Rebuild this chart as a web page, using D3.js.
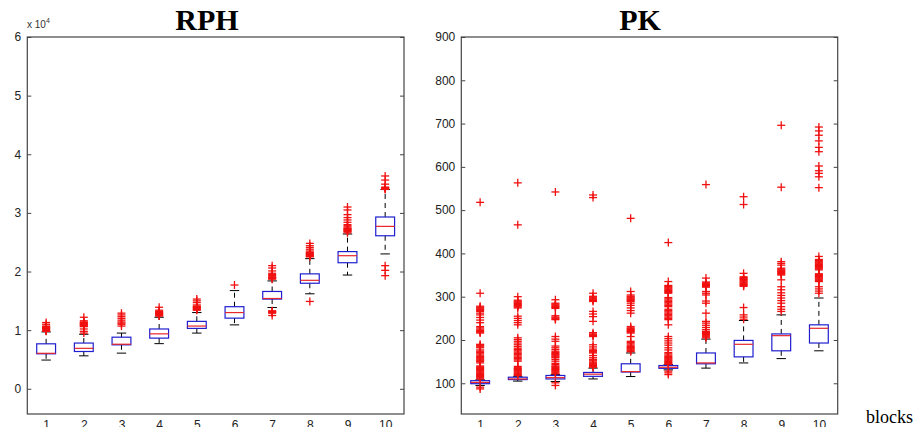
<!DOCTYPE html>
<html>
<head>
<meta charset="utf-8">
<script src="https://cdn.jsdelivr.net/npm/d3@7"></script>
<style>
  body { margin: 0; background: #fff; }
  svg { display: block; }
</style>
</head>
<body>
<svg id="chart" width="920" height="427"></svg>
<script>
"use strict";

// x categories (blocks)
var blocks = [1, 2, 3, 4, 5, 6, 7, 8, 9, 10];

// RPH, values in units of 10^4
var rphTicks = [0, 1, 2, 3, 4, 5, 6];
var rphLo  = [0.49, 0.562, 0.608, 0.77, 0.95, 1.09, 1.386, 1.62, 1.94, 2.30];
var rphQ1  = [0.597, 0.636, 0.75, 0.864, 1.03, 1.205, 1.53, 1.80, 2.15, 2.61];
var rphMed = [0.605, 0.69, 0.76, 0.937, 1.07, 1.30, 1.54, 1.85, 2.27, 2.77];
var rphQ3  = [0.767, 0.78, 0.88, 1.02, 1.15, 1.40, 1.66, 1.96, 2.34, 2.93];
var rphHi  = [0.97, 0.93, 0.95, 1.22, 1.30, 1.675, 1.84, 2.22, 2.64, 3.40];
var rphOut = [
  [0.98, 0.99, 1.0, 1.01, 1.02, 1.03, 1.04, 1.05, 1.06, 1.07, 1.10, 1.13],
  [0.95, 0.98, 1.02, 1.06, 1.07, 1.08, 1.09, 1.10, 1.11, 1.12, 1.13, 1.14, 1.16, 1.22],
  [1.07, 1.10, 1.12, 1.14, 1.17, 1.20, 1.23, 1.26, 1.29],
  [1.24, 1.25, 1.26, 1.27, 1.28, 1.29, 1.30, 1.31, 1.32, 1.34, 1.39],
  [1.34, 1.35, 1.36, 1.37, 1.38, 1.39, 1.40, 1.41, 1.43, 1.47, 1.50, 1.53],
  [1.77],
  [1.87, 1.88, 1.89, 1.90, 1.91, 1.93, 1.95, 1.97, 2.01, 2.06, 2.10, 1.33, 1.32, 1.31, 1.30, 1.29, 1.25],
  [2.25, 2.26, 2.27, 2.28, 2.29, 2.30, 2.31, 2.32, 2.33, 2.35, 2.38, 2.41, 2.44, 2.48, 1.49],
  [2.66, 2.68, 2.69, 2.70, 2.71, 2.72, 2.73, 2.74, 2.76, 2.78, 2.80, 2.84, 2.88, 2.92, 2.97, 3.05, 3.10],
  [3.40, 3.41, 3.42, 3.43, 3.44, 3.49, 3.56, 3.63, 2.10, 2.02, 1.93]
];

// PK
var pkTicks = [100, 200, 300, 400, 500, 600, 700, 800, 900];
var pkLo  = [95, 105, 104, 110, 115.5, 131, 135, 147, 157, 175];
var pkQ1  = [99, 108.5, 110, 116, 126, 134.5, 145, 161, 175, 193];
var pkMed = [102, 110, 113, 121, 127, 137, 147, 190, 210, 227];
var pkQ3  = [106, 114, 118, 125, 145, 141, 170, 199, 214, 235];
var pkHi  = [108, 116, 120, 135, 170, 143, 202, 245, 258, 297];
var pkOut = [
  [91, 87, 110, 112, 114, 116, 118, 120, 122, 124, 126, 128, 130, 132, 134, 136, 138, 140, 147, 150,
   152, 154, 156, 158, 160, 162, 165, 168, 171, 174, 177, 182, 184, 186, 188, 190, 216, 218, 220, 222,
   225, 228, 231, 240, 246, 252, 258, 262, 266, 268, 270, 272, 274, 276, 278, 308, 518],
  [118, 120, 122, 124, 126, 128, 130, 132, 134, 136, 139, 151, 154, 157, 160, 163, 166, 169, 172, 175,
   178, 181, 185, 189, 193, 197, 201, 205, 235, 240, 245, 250, 255, 274, 276, 278, 280, 282, 284, 286,
   288, 290, 292, 300, 466, 563],
  [101, 95, 122, 124, 126, 128, 130, 132, 134, 136, 138, 140, 143, 146, 151, 155, 159, 161, 163, 165,
   167, 169, 171, 174, 178, 182, 186, 197, 202, 208, 247, 249, 251, 253, 256, 273, 275, 277, 279, 281,
   283, 285, 293, 542],
  [137, 139, 141, 143, 145, 147, 149, 152, 155, 159, 164, 170, 172, 174, 176, 179, 184, 189, 208, 210,
   212, 214, 217, 243, 254, 260, 266, 289, 291, 293, 295, 297, 299, 301, 308, 529, 535],
  [173, 175, 177, 179, 181, 183, 185, 188, 191, 194, 197, 208, 216, 218, 220, 222, 224, 226, 228, 231,
   262, 268, 274, 280, 285, 289, 291, 293, 295, 297, 299, 301, 304, 312, 481],
  [128, 124, 120, 144, 146, 148, 150, 152, 154, 156, 158, 160, 162, 165, 168, 171, 177, 182, 188, 193,
   198, 203, 208, 235, 247, 250, 253, 256, 259, 262, 265, 268, 271, 277, 280, 283, 286, 289, 292, 295,
   298, 308, 310, 312, 314, 316, 318, 320, 322, 324, 326, 335, 425],
  [205, 207, 209, 211, 213, 215, 217, 220, 224, 229, 234, 239, 243, 262, 285, 290, 304, 308, 312, 322,
   324, 326, 328, 330, 332, 334, 343, 559],
  [248, 253, 258, 275, 324, 326, 328, 330, 332, 334, 336, 338, 340, 342, 344, 346, 354, 513, 531],
  [266, 271, 277, 285, 291, 297, 303, 309, 316, 323, 339, 350, 352, 354, 356, 358, 360, 362, 364, 366,
   373, 377, 381, 553, 696],
  [308, 313, 318, 323, 335, 337, 339, 341, 343, 345, 347, 349, 351, 353, 362, 364, 366, 368, 370, 372,
   374, 376, 378, 380, 382, 384, 386, 393, 552, 577, 585, 591, 602, 635, 645, 660, 673, 683, 692]
];

var svg = d3.select("#chart");

function drawPanel(opt) {
  var x = d3.scaleLinear().domain([0.5, 10.5]).range([opt.left, opt.right]);
  var y = d3.scaleLinear().domain(opt.domain).range([414, 37]);
  var g = svg.append("g");

  // frame
  g.append("rect")
    .attr("x", opt.left).attr("y", 37)
    .attr("width", opt.right - opt.left).attr("height", 414 - 37)
    .attr("fill", "none").attr("stroke", "#444").attr("stroke-width", 1.2);

  // y axis left + mirrored ticks right
  var yl = g.append("g").attr("transform", "translate(" + opt.left + ",0)")
    .call(d3.axisLeft(y).tickValues(opt.ticks).tickFormat(d3.format("d"))
      .tickSizeInner(-4).tickSizeOuter(0).tickPadding(6));
  yl.select(".domain").remove();
  yl.selectAll("line").attr("stroke", "#444");
  yl.selectAll("text").attr("font-family", "Arial, 'Liberation Sans', sans-serif")
    .attr("font-size", 12).attr("fill", "#222");

  var yr = g.append("g").attr("transform", "translate(" + opt.right + ",0)")
    .call(d3.axisRight(y).tickValues(opt.ticks).tickSizeInner(-4).tickSizeOuter(0).tickFormat(""));
  yr.select(".domain").remove();
  yr.selectAll("line").attr("stroke", "#444");

  // x tick labels
  var xa = g.append("g").attr("transform", "translate(0,414)")
    .call(d3.axisBottom(x).tickValues(blocks).tickSize(0).tickPadding(6));
  xa.select(".domain").remove();
  xa.selectAll("text").attr("font-family", "Arial, 'Liberation Sans', sans-serif")
    .attr("font-size", 12).attr("fill", "#222");

  var bw = x(1.25) - x(1);   // half box width
  var cw = x(1.125) - x(1);  // half cap width

  var box = g.selectAll(".box").data(blocks).enter().append("g").attr("class", "box");

  // whiskers
  box.append("line")
    .attr("x1", d => x(d)).attr("x2", d => x(d))
    .attr("y1", (d, i) => y(opt.q3[i])).attr("y2", (d, i) => y(opt.hi[i]))
    .attr("stroke", "#000").attr("stroke-dasharray", "5,4");
  box.append("line")
    .attr("x1", d => x(d)).attr("x2", d => x(d))
    .attr("y1", (d, i) => y(opt.q1[i])).attr("y2", (d, i) => y(opt.lo[i]))
    .attr("stroke", "#000").attr("stroke-dasharray", "5,4");
  // caps
  box.append("line")
    .attr("x1", d => x(d) - cw).attr("x2", d => x(d) + cw)
    .attr("y1", (d, i) => y(opt.hi[i])).attr("y2", (d, i) => y(opt.hi[i]))
    .attr("stroke", "#000");
  box.append("line")
    .attr("x1", d => x(d) - cw).attr("x2", d => x(d) + cw)
    .attr("y1", (d, i) => y(opt.lo[i])).attr("y2", (d, i) => y(opt.lo[i]))
    .attr("stroke", "#000");

  // boxes
  box.append("rect")
    .attr("x", d => x(d) - bw).attr("width", bw * 2)
    .attr("y", (d, i) => y(opt.q3[i]))
    .attr("height", (d, i) => y(opt.q1[i]) - y(opt.q3[i]))
    .attr("fill", "none").attr("stroke", "#1f1fd0").attr("stroke-width", 1.2);
  // medians
  box.append("line")
    .attr("x1", d => x(d) - bw).attr("x2", d => x(d) + bw)
    .attr("y1", (d, i) => y(opt.med[i])).attr("y2", (d, i) => y(opt.med[i]))
    .attr("stroke", "#e8262b").attr("stroke-width", 1.2);

  // outliers as '+'
  var pts = [];
  opt.out.forEach((arr, i) => arr.forEach(v => pts.push({ b: blocks[i], v: v })));
  var plus = g.selectAll(".out").data(pts).enter().append("g").attr("class", "out")
    .attr("transform", d => "translate(" + x(d.b) + "," + y(d.v) + ")");
  plus.append("line").attr("x1", -4).attr("x2", 4).attr("stroke", "#f01010").attr("stroke-width", 1.3);
  plus.append("line").attr("y1", -4).attr("y2", 4).attr("stroke", "#f01010").attr("stroke-width", 1.3);

  // title
  svg.append("text")
    .attr("x", opt.titleX).attr("y", 30)
    .attr("text-anchor", "middle")
    .attr("font-family", "'Liberation Serif', 'Times New Roman', serif")
    .attr("font-weight", "bold").attr("font-size", 30)
    .text(opt.title);
}

drawPanel({ left: 27.3, right: 404, domain: [-0.43, 6], ticks: rphTicks,
  lo: rphLo, q1: rphQ1, med: rphMed, q3: rphQ3, hi: rphHi, out: rphOut,
  title: "RPH", titleX: 207 });

drawPanel({ left: 461.3, right: 837.7, domain: [29, 900], ticks: pkTicks,
  lo: pkLo, q1: pkQ1, med: pkMed, q3: pkQ3, hi: pkHi, out: pkOut,
  title: "PK", titleX: 640 });

// exponent label
var ex = svg.append("text").attr("x", 27).attr("y", 28)
  .attr("font-family", "Arial, 'Liberation Sans', sans-serif")
  .attr("font-size", 10).attr("fill", "#333");
ex.append("tspan").text("x 10");
ex.append("tspan").attr("dy", -5).attr("font-size", 7).text("4");

// x label
svg.append("text").attr("x", 866).attr("y", 423)
  .attr("font-family", "'Liberation Serif', 'Times New Roman', serif")
  .attr("font-size", 18).attr("fill", "#000")
  .text("blocks");
</script>
</body>
</html>
